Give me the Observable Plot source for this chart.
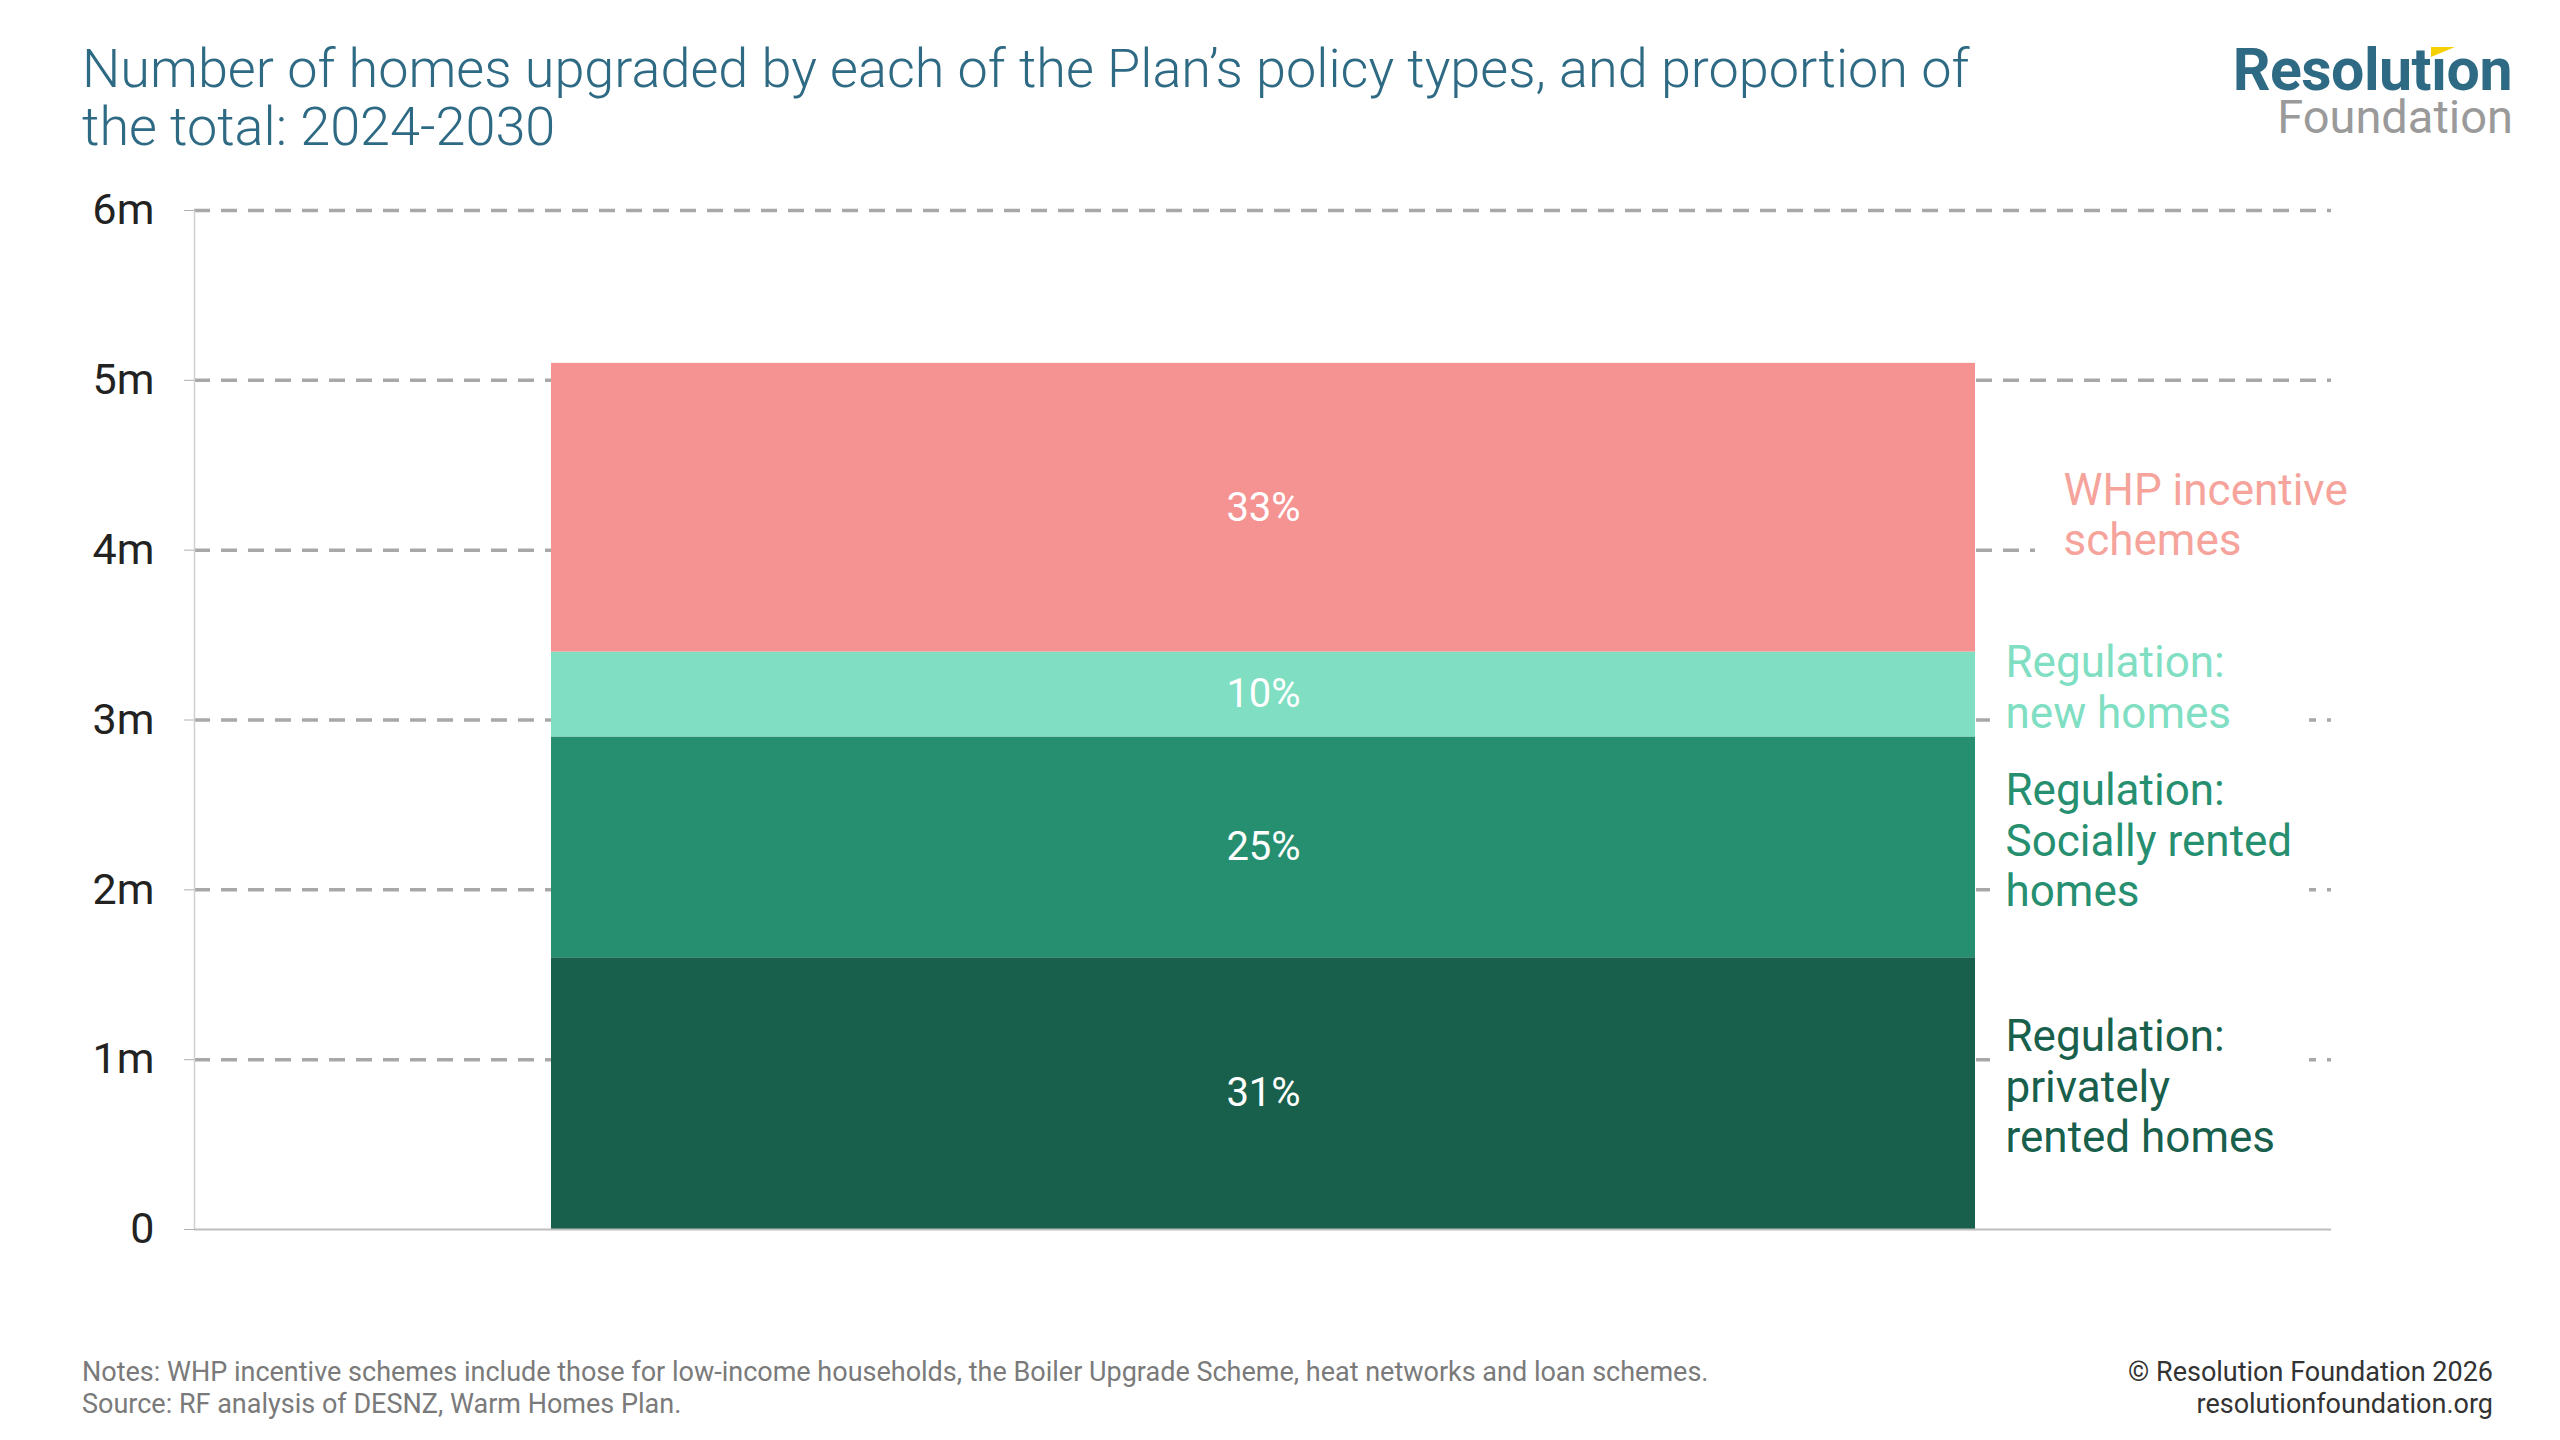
<!DOCTYPE html>
<html>
<head>
<meta charset="utf-8">
<script src="https://cdn.jsdelivr.net/npm/d3@7"></script>
<script src="https://cdn.jsdelivr.net/npm/@observablehq/plot@0.6"></script>
<style>
  html, body { margin: 0; padding: 0; background: #fff; }
  #page { position: relative; width: 2560px; height: 1440px; font-family: Roboto, "Noto Sans", sans-serif; overflow: hidden; }
  #title { position: absolute; left: 82px; top: 40px; width: 2100px; font-size: 54px; line-height: 58px; font-weight: 300; color: #2E6A84; }
  #logo1 { position: absolute; right: 48px; top: 45px; font-size: 59px; line-height: 50px; font-weight: 700; color: #2E6A84; letter-spacing: -0.5px; }
  #logo2 { position: absolute; right: 47px; top: 97px; font-size: 47px; line-height: 40px; font-weight: 400; color: #9a9a9a; }
  #accent { position: absolute; left: 2431px; top: 47px; width: 24px; height: 10px; background: #F5D000; clip-path: polygon(0 0, 100% 0, 0 100%); }
  #notes { position: absolute; left: 82px; top: 1356px; font-size: 27px; line-height: 32px; color: #7a7a7a; }
  #credit { position: absolute; right: 67px; top: 1356px; font-size: 27px; line-height: 32px; color: #333; text-align: right; }
  #chart { position: absolute; left: 0; top: 150px; }
</style>
</head>
<body>
<div id="page">
  <div id="title">Number of homes upgraded by each of the Plan’s policy types, and proportion of<br>the total: 2024-2030</div>
  <div id="logo1">Resolutıon</div>
  <div id="accent"></div>
  <div id="logo2">Foundation</div>
  <div id="chart"></div>
  <div id="notes">Notes: WHP incentive schemes include those for low-income households, the Boiler Upgrade Scheme, heat networks and loan schemes.<br>Source: RF analysis of DESNZ, Warm Homes Plan.</div>
  <div id="credit">© Resolution Foundation 2026<br>resolutionfoundation.org</div>
</div>
<script>
// ---- data ----
const period = "2024-2030";
const categories = [
  "Regulation: privately rented homes",
  "Regulation: Socially rented homes",
  "Regulation: new homes",
  "WHP incentive schemes"
];
const labelLines = [
  "Regulation:\nprivately\nrented homes",
  "Regulation:\nSocially rented\nhomes",
  "Regulation:\nnew homes",
  "WHP incentive\nschemes"
];
const homesMillions = [1.6, 1.3, 0.5, 1.7];
const sharePercent = [31, 25, 10, 33];
const yTicks = [0, 1, 2, 3, 4, 5, 6];
const gridTicks = [1, 2, 3, 4, 5, 6];
const barColors = ["#18604B", "#268F70", "#80DEC2", "#F59393"];
const whpLabelColor = "#F5A39B";

const rows = categories.map((c, i) => ({
  period, category: c, value: homesMillions[i], share: sharePercent[i], label: labelLines[i]
}));
const WHP = categories[3];
const isWHP = d => d.category === WHP;
const notWHP = d => d.category !== WHP;

const labelOpts = {
  x: "period", y: "value", z: "category",
  textAnchor: "start", lineAnchor: "middle", lineHeight: 1.15, fontSize: 44
};

const chart = Plot.plot({
  width: 2560,
  height: 1144,
  marginTop: 60,
  marginBottom: 65,
  marginLeft: 194,
  marginRight: 229,
  style: { fontFamily: "Roboto, sans-serif", background: "transparent", overflow: "visible" },
  x: { domain: [period], padding: 0.2, axis: null },
  y: { domain: [0, 6], axis: null },
  color: { domain: categories, range: barColors },
  marks: [
    Plot.gridY(gridTicks, { stroke: "#a8a8a8", strokeOpacity: 1, strokeWidth: 3.5, strokeDasharray: "16,11" }),
    Plot.frame({ anchor: "left", stroke: "#d0d0d0", strokeWidth: 1.5 }),
    Plot.axisY(yTicks, {
      label: null, tickSize: 10, tickPadding: 30, fontSize: 43, fill: "#222", stroke: "#b0b0b0",
      tickFormat: d => d === 0 ? "0" : d + "m"
    }),
    // white label boxes to the right of the bar (hide gridlines behind the labels)
    Plot.barY(rows, Plot.filter(notWHP, Plot.stackY({
      x: "period", y: "value", z: "category", fill: "white",
      dx: 1439, insetRight: 1105, insetBottom: 3
    }))),
    Plot.barY(rows, Plot.filter(isWHP, Plot.stackY({
      x: "period", y: "value", z: "category", fill: "white",
      dx: 1484, insetRight: 1070, insetTop: 60
    }))),
    Plot.barY(rows, { x: "period", y: "value", fill: "category" }),
    Plot.ruleY([0], { stroke: "#bdbdbd", strokeWidth: 2 }),
    Plot.text(rows, Plot.stackY({
      x: "period", y: "value", z: "category",
      text: d => d.share + "%", fill: "white", fontSize: 40
    })),
    // right-hand labels
    Plot.text(rows, Plot.filter(notWHP, Plot.stackY({
      ...labelOpts, text: "label", fill: "category", dx: 742, dy: -8
    }))),
    Plot.text(rows, Plot.filter(isWHP, Plot.stackY({
      ...labelOpts, text: "label", fill: whpLabelColor, dx: 800, dy: 6
    })))
  ]
});
document.getElementById("chart").appendChild(chart);
</script>
</body>
</html>
